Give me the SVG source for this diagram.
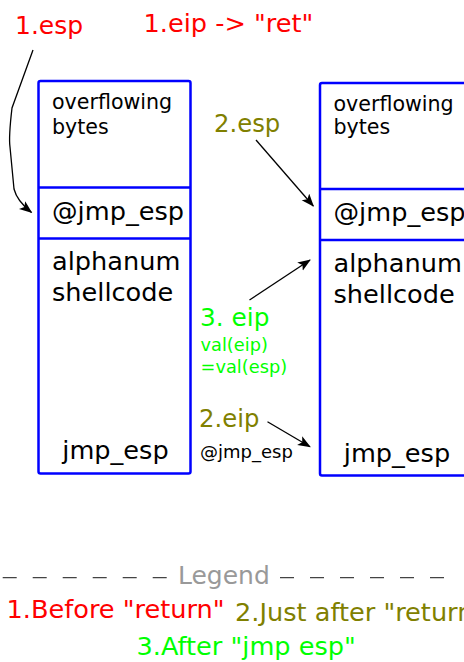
<svg xmlns="http://www.w3.org/2000/svg" width="464" height="662" viewBox="0 0 464 662">
<style>
text{font-family:"DejaVu Sans",sans-serif}
.box{fill:#fff;stroke:#0000ff;stroke-width:2.5}
.div{stroke:#0000ff;stroke-width:2.5}
.big{font-size:25.6px;fill:#000}
.mid{font-size:20.6px;fill:#000}
.red{fill:#ff0000;font-size:25px}
.olive{fill:#808000;font-size:24.3px}
.green{fill:#00ff00;font-size:24.8px}
.sg{fill:#00ff00;font-size:17.8px}
.sm{fill:#000;font-size:18px}
.conn{fill:none;stroke:#000;stroke-width:1.3}
.dash{stroke:#444;stroke-width:1.3;stroke-dasharray:14 16}
</style>
<defs>
<marker id="ah" markerUnits="userSpaceOnUse" markerWidth="14" markerHeight="12" refX="12" refY="5" orient="auto">
<path d="M0,0 L13,5 L0,10 L3,5 Z" fill="#000"/>
</marker>
</defs>
<g id="stack-before">
<rect class="box" x="38.5" y="81" width="152" height="392.5" rx="2"/>
<line class="div" x1="38.5" y1="187.5" x2="190.5" y2="187.5"/>
<line class="div" x1="38.5" y1="238.5" x2="190.5" y2="238.5"/>
<text class="mid" x="52" y="109">overflowing</text>
<text class="mid" x="52" y="133.5">bytes</text>
<text class="big" x="52" y="220">@jmp_esp</text>
<text class="big" x="52" y="270">alphanum</text>
<text class="big" x="52" y="301">shellcode</text>
<text class="big" x="115.5" y="459" text-anchor="middle">jmp_esp</text>
</g>
<g id="stack-after">
<rect class="box" x="320" y="83" width="152" height="392.5" rx="2"/>
<line class="div" x1="320" y1="189" x2="472" y2="189"/>
<line class="div" x1="320" y1="240" x2="472" y2="240"/>
<text class="mid" x="333.5" y="110.7">overflowing</text>
<text class="mid" x="333.5" y="134.3">bytes</text>
<text class="big" x="333.5" y="221">@jmp_esp</text>
<text class="big" x="333.5" y="271.7">alphanum</text>
<text class="big" x="333.5" y="303">shellcode</text>
<text class="big" x="397" y="461.5" text-anchor="middle">jmp_esp</text>
</g>
<g id="labels">
<text class="red" x="15" y="34">1.esp</text>
<text class="red" x="143.5" y="32" style="font-size:25.6px">1.eip -&gt; "ret"</text>
<text class="olive" x="214" y="131.7">2.esp</text>
<text class="green" x="200" y="325.7">3. eip</text>
<text class="sg" x="200.5" y="350.7">val(eip)</text>
<text class="sg" x="200.5" y="373.3">=val(esp)</text>
<text class="olive" x="199" y="426.7">2.eip</text>
<text class="sm" x="200" y="458.3">@jmp_esp</text>
</g>
<g id="connectors">
<path class="conn" marker-end="url(#ah)" d="M33,50 L12,108 C10,125 9,140 10,147 L14,189 C16,197 22,205 31.5,212.5"/>
<path class="conn" marker-end="url(#ah)" d="M256,140 L313.3,206"/>
<path class="conn" marker-end="url(#ah)" d="M249.5,300 L310,260"/>
<path class="conn" marker-end="url(#ah)" d="M267.5,421.7 L310,446.7"/>
</g>
<g id="legend">
<line class="dash" x1="2.7" y1="577.7" x2="172" y2="577.7"/>
<line class="dash" x1="280" y1="577.7" x2="450" y2="577.7"/>
<text x="178" y="584" style="font-size:25px;fill:#999999">Legend</text>
<text x="6.5" y="618.3" style="font-size:25.6px;fill:#ff0000">1.Before "return"</text>
<text x="235" y="621" style="font-size:25.6px;fill:#808000">2.Just after "return"</text>
<text x="136.5" y="655" style="font-size:25.6px;fill:#00ff00">3.After "jmp esp"</text>
</g>
</svg>
